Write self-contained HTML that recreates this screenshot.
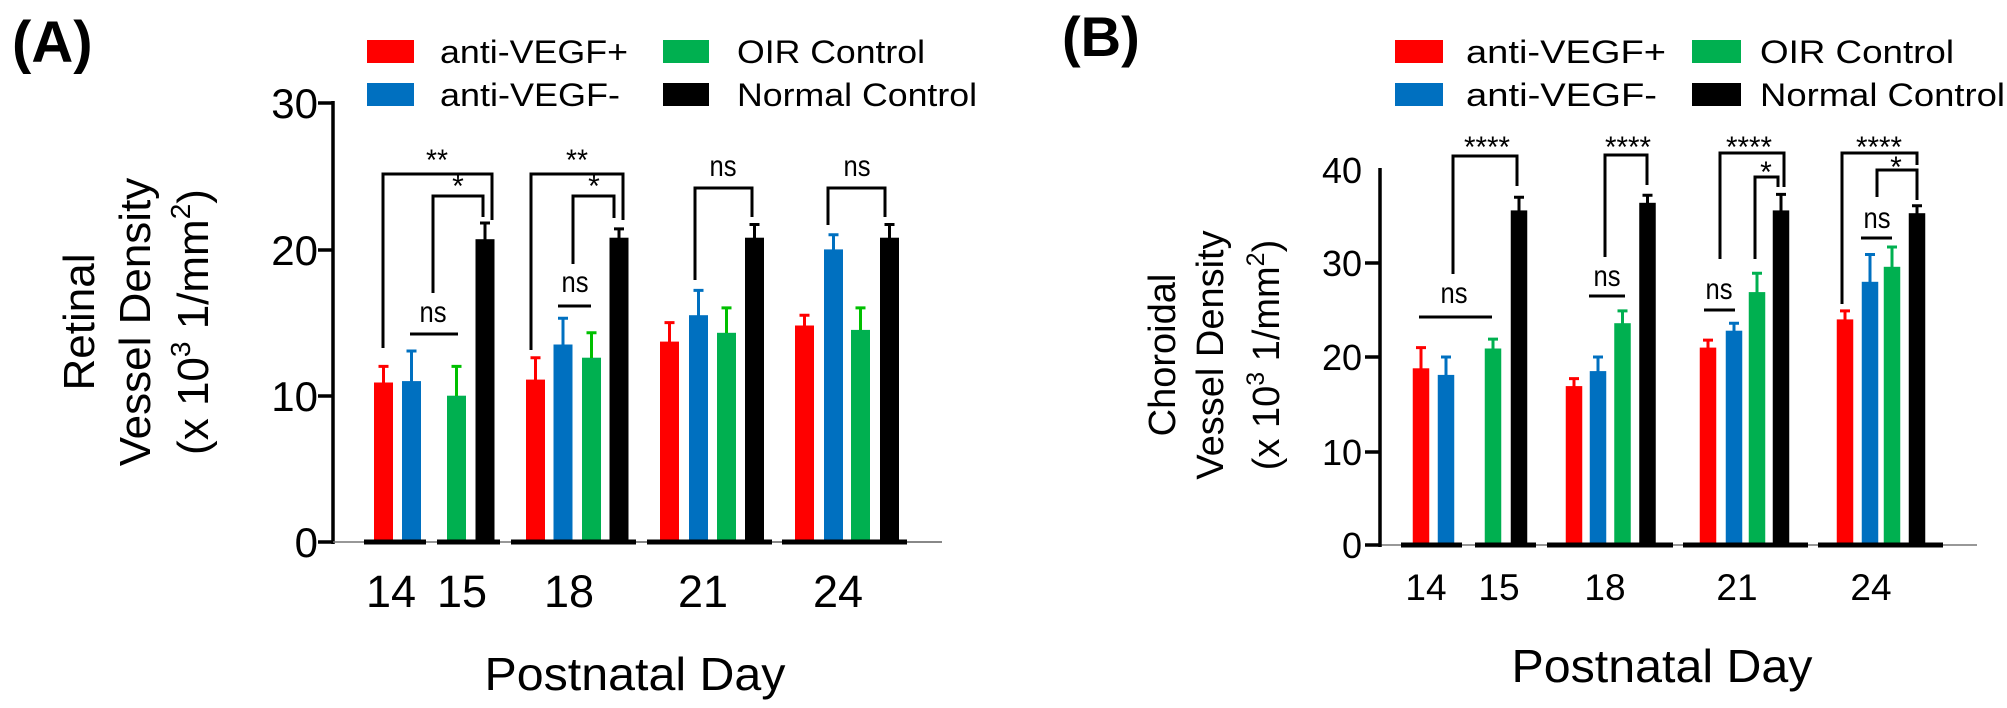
<!DOCTYPE html>
<html><head><meta charset="utf-8"><style>html,body{margin:0;padding:0;background:#fff}svg{display:block}text{font-family:"Liberation Sans",Arial,sans-serif}</style></head>
<body>
<svg width="2007" height="708" viewBox="0 0 2007 708" xmlns="http://www.w3.org/2000/svg">
<!-- Panel labels -->
<text x="12" y="62" font-size="58" font-weight="bold">(A)</text>
<text x="1062" y="56" font-size="56" font-weight="bold">(B)</text>

<!-- Legend A -->
<rect x="367" y="40" width="47" height="23" fill="#ff0000"/>
<rect x="367" y="83" width="47" height="23" fill="#0070c0"/>
<rect x="663" y="40" width="46" height="23" fill="#00b050"/>
<rect x="663" y="83" width="46" height="23" fill="#000"/>
<text x="440" y="63" font-size="32" textLength="188" lengthAdjust="spacingAndGlyphs">anti-VEGF+</text>
<text x="440" y="106" font-size="32" textLength="180" lengthAdjust="spacingAndGlyphs">anti-VEGF-</text>
<text x="737" y="63" font-size="32" textLength="188" lengthAdjust="spacingAndGlyphs">OIR Control</text>
<text x="737" y="106" font-size="32" textLength="240" lengthAdjust="spacingAndGlyphs">Normal Control</text>

<!-- Legend B -->
<rect x="1395" y="40" width="48" height="23" fill="#ff0000"/>
<rect x="1395" y="83" width="48" height="23" fill="#0070c0"/>
<rect x="1692" y="40" width="49" height="23" fill="#00b050"/>
<rect x="1692" y="83" width="49" height="23" fill="#000"/>
<text x="1466" y="63" font-size="32" textLength="200" lengthAdjust="spacingAndGlyphs">anti-VEGF+</text>
<text x="1466" y="106" font-size="32" textLength="191" lengthAdjust="spacingAndGlyphs">anti-VEGF-</text>
<text x="1760" y="63" font-size="32" textLength="194" lengthAdjust="spacingAndGlyphs">OIR Control</text>
<text x="1760" y="106" font-size="32" textLength="245" lengthAdjust="spacingAndGlyphs">Normal Control</text>

<!-- ===== Panel A ===== -->
<g font-size="44" text-anchor="middle">
<text transform="translate(94,322) rotate(-90)">Retinal</text>
<text transform="translate(150,322) rotate(-90)">Vessel Density</text>
<text transform="translate(208,322) rotate(-90)">(x 10<tspan font-size="28" dy="-18">3</tspan><tspan dy="18"> 1/mm</tspan><tspan font-size="28" dy="-18">2</tspan><tspan dy="18">)</tspan></text>
</g>
<g font-size="42" text-anchor="end">
<text x="318" y="118">30</text>
<text x="318" y="265">20</text>
<text x="318" y="411">10</text>
<text x="318" y="557">0</text>
</g>
<line x1="520" y1="542" x2="942" y2="542" stroke="#777" stroke-width="1.5"/>
<path d="M333 101 V544 M318 103 H333 M318 250 H333 M318 396 H333 M318 542 H333" stroke="#000" stroke-width="3.5" fill="none"/>
<line x1="333" y1="542" x2="942" y2="542" stroke="#777" stroke-width="1.5"/>
<g font-size="45" text-anchor="middle">
<text x="391" y="607">14</text><text x="462" y="607">15</text><text x="569" y="607">18</text><text x="703" y="607">21</text><text x="838" y="607">24</text>
</g>
<text x="635" y="690" font-size="46" text-anchor="middle" textLength="301" lengthAdjust="spacingAndGlyphs">Postnatal Day</text>

<!-- bars A -->
<g>
<rect x="374" y="382.5" width="19" height="159.5" fill="#ff0000"/>
<rect x="402" y="381.1" width="19" height="160.9" fill="#0070c0"/>
<rect x="447" y="395.7" width="19" height="146.3" fill="#00b050"/>
<rect x="475.5" y="239.2" width="19" height="302.8" fill="#000"/>
<rect x="526" y="379.6" width="19" height="162.4" fill="#ff0000"/>
<rect x="553.5" y="344.5" width="19" height="197.5" fill="#0070c0"/>
<rect x="582" y="357.7" width="19" height="184.3" fill="#00b050"/>
<rect x="609.5" y="237.7" width="19" height="304.3" fill="#000"/>
<rect x="660" y="341.6" width="19" height="200.4" fill="#ff0000"/>
<rect x="689" y="315.2" width="19" height="226.8" fill="#0070c0"/>
<rect x="717" y="332.8" width="19" height="209.2" fill="#00b050"/>
<rect x="745" y="237.7" width="19" height="304.3" fill="#000"/>
<rect x="795" y="325.5" width="19" height="216.5" fill="#ff0000"/>
<rect x="824" y="249.4" width="19" height="292.6" fill="#0070c0"/>
<rect x="851" y="329.9" width="19" height="212.1" fill="#00b050"/>
<rect x="880" y="237.7" width="19" height="304.3" fill="#000"/>
</g>
<g stroke-width="3" fill="none">
<path stroke="#ff0000" d="M383.5 383V366.4M378.5 366.4H388.5 M535.5 380V357.7M530.5 357.7H540.5 M669.5 342V322.6M664.5 322.6H674.5 M804.5 326V315.2M799.5 315.2H809.5"/>
<path stroke="#0070c0" d="M411.5 382V351M406.5 351H416.5 M563 345V318.2M558 318.2H568 M698.5 316V290.4M693.5 290.4H703.5 M833.5 250V234.8M828.5 234.8H838.5"/>
<path stroke="#00c000" d="M456.5 396V366.4M451.5 366.4H461.5 M591.5 358V332.8M586.5 332.8H596.5 M726.5 333V307.9M721.5 307.9H731.5 M860.5 330V307.9M855.5 307.9H865.5"/>
<path stroke="#000" d="M485 240V223M480 223H490 M619 238V228.9M614 228.9H624 M754.5 238V224.5M749.5 224.5H759.5 M889.5 238V224.5M884.5 224.5H894.5"/>
</g>
<path d="M364 542H426M437 542H500M511 542H636M647 542H772M782 542H907" stroke="#000" stroke-width="5"/>
<!-- brackets A -->
<path d="M383 348V174H492V220 M433 293V196H483V217 M410 334H458 M531 350V174H623V220 M573 264V196H614V218 M558 306H591 M695 280V188H752V217 M828 225V188H885V217" stroke="#000" stroke-width="3" fill="none"/>
<g font-size="30" text-anchor="middle">
<text x="437" y="170" textLength="22" lengthAdjust="spacingAndGlyphs">**</text>
<text x="458" y="196">*</text>
<text x="433" y="322" textLength="27" lengthAdjust="spacingAndGlyphs">ns</text>
<text x="577" y="170" textLength="22" lengthAdjust="spacingAndGlyphs">**</text>
<text x="594" y="196">*</text>
<text x="575" y="292" textLength="27" lengthAdjust="spacingAndGlyphs">ns</text>
<text x="723" y="176" textLength="27" lengthAdjust="spacingAndGlyphs">ns</text>
<text x="857" y="176" textLength="27" lengthAdjust="spacingAndGlyphs">ns</text>
</g>

<!-- ===== Panel B ===== -->
<g font-size="38" text-anchor="middle">
<text transform="translate(1175,355) rotate(-90)">Choroidal</text>
<text transform="translate(1223,355) rotate(-90)">Vessel Density</text>
<text transform="translate(1279,355) rotate(-90)">(x 10<tspan font-size="25" dy="-15">3</tspan><tspan dy="15"> 1/mm</tspan><tspan font-size="25" dy="-15">2</tspan><tspan dy="15">)</tspan></text>
</g>
<g font-size="36" text-anchor="end">
<text x="1362" y="183">40</text>
<text x="1362" y="276">30</text>
<text x="1362" y="370">20</text>
<text x="1362" y="465">10</text>
<text x="1362" y="558">0</text>
</g>
<line x1="1380" y1="545" x2="1977" y2="545" stroke="#777" stroke-width="1.5"/>
<path d="M1380 168V547 M1365 263H1380 M1365 357H1380 M1365 452H1380 M1365 545H1380" stroke="#000" stroke-width="3.5" fill="none"/>
<g font-size="37" text-anchor="middle">
<text x="1426" y="600">14</text><text x="1499" y="600">15</text><text x="1605" y="600">18</text><text x="1737" y="600">21</text><text x="1871" y="600">24</text>
</g>
<text x="1662" y="682" font-size="46" text-anchor="middle" textLength="301" lengthAdjust="spacingAndGlyphs">Postnatal Day</text>

<g>
<rect x="1412.75" y="368.3" width="16.5" height="176.7" fill="#ff0000"/>
<rect x="1437.75" y="374.9" width="16.5" height="170.1" fill="#0070c0"/>
<rect x="1484.75" y="348.5" width="16.5" height="196.5" fill="#00b050"/>
<rect x="1510.75" y="210.4" width="16.5" height="334.6" fill="#000"/>
<rect x="1565.75" y="386.1" width="16.5" height="158.9" fill="#ff0000"/>
<rect x="1589.75" y="371.1" width="16.5" height="173.9" fill="#0070c0"/>
<rect x="1614.25" y="323.2" width="16.5" height="221.8" fill="#00b050"/>
<rect x="1639.25" y="202.8" width="16.5" height="342.2" fill="#000"/>
<rect x="1699.75" y="347.6" width="16.5" height="197.4" fill="#ff0000"/>
<rect x="1725.75" y="330.7" width="16.5" height="214.3" fill="#0070c0"/>
<rect x="1748.75" y="292.1" width="16.5" height="252.9" fill="#00b050"/>
<rect x="1772.75" y="210.4" width="16.5" height="334.6" fill="#000"/>
<rect x="1836.75" y="319.4" width="16.5" height="225.6" fill="#ff0000"/>
<rect x="1861.75" y="281.8" width="16.5" height="263.2" fill="#0070c0"/>
<rect x="1883.75" y="266.8" width="16.5" height="278.2" fill="#00b050"/>
<rect x="1908.75" y="213.2" width="16.5" height="331.8" fill="#000"/>
</g>
<g stroke-width="3" fill="none">
<path stroke="#ff0000" d="M1421 369V347.6M1416 347.6H1426 M1574 387V378.6M1569 378.6H1579 M1708 348V340.1M1703 340.1H1713 M1845 320V310.9M1840 310.9H1850"/>
<path stroke="#0070c0" d="M1446 375V357M1441 357H1451 M1598 372V357M1593 357H1603 M1734 331V323.2M1729 323.2H1739 M1870 282V254.5M1865 254.5H1875"/>
<path stroke="#00b050" d="M1493 349V339.1M1488 339.1H1498 M1622.5 324V310.9M1617.5 310.9H1627.5 M1757 293V273.3M1752 273.3H1762 M1892 267V247M1887 247H1897"/>
<path stroke="#000" d="M1519 211V197.2M1514 197.2H1524 M1647.5 203V195.3M1642.5 195.3H1652.5 M1781 211V194.4M1776 194.4H1786 M1917 214V205.7M1912 205.7H1922"/>
</g>
<path d="M1401 545H1462M1475 545H1536M1547 545H1673M1683 545H1808M1818 545H1943" stroke="#000" stroke-width="5"/>
<path d="M1453 274V156H1517V186 M1419 317H1492 M1605 257V155H1647V185 M1589 296H1625 M1720 259V153H1784V187 M1755 259V177H1778V187 M1704 310H1735 M1842 304V153H1917V165 M1877 197V170H1917V200 M1861 238H1892" stroke="#000" stroke-width="3" fill="none"/>
<g font-size="30" text-anchor="middle">
<text x="1487" y="157" textLength="46" lengthAdjust="spacingAndGlyphs">****</text>
<text x="1454" y="303" textLength="27" lengthAdjust="spacingAndGlyphs">ns</text>
<text x="1628" y="157" textLength="46" lengthAdjust="spacingAndGlyphs">****</text>
<text x="1607" y="286" textLength="27" lengthAdjust="spacingAndGlyphs">ns</text>
<text x="1749" y="157" textLength="46" lengthAdjust="spacingAndGlyphs">****</text>
<text x="1766" y="182">*</text>
<text x="1719" y="299" textLength="27" lengthAdjust="spacingAndGlyphs">ns</text>
<text x="1879" y="157" textLength="46" lengthAdjust="spacingAndGlyphs">****</text>
<text x="1896" y="177">*</text>
<text x="1877" y="228" textLength="27" lengthAdjust="spacingAndGlyphs">ns</text>
</g>
</svg>
</body></html>
